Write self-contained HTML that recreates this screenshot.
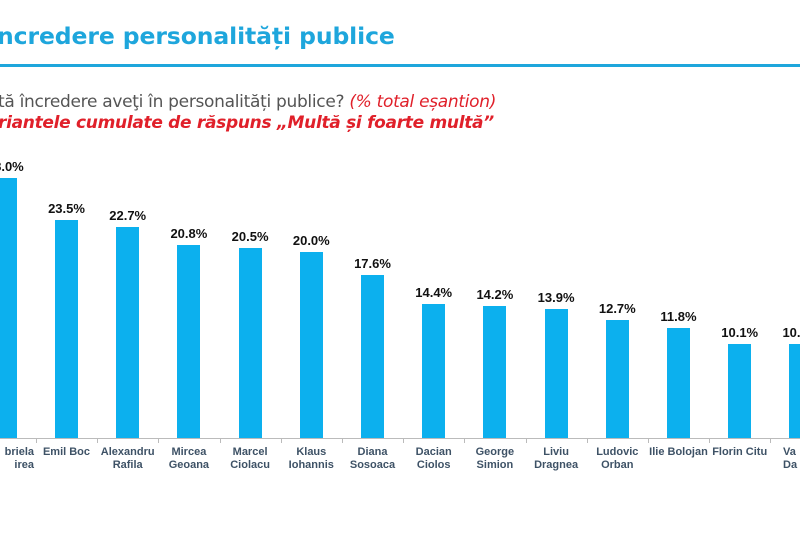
<!DOCTYPE html>
<html><head><meta charset="utf-8"><style>
body{margin:0;width:800px;height:534px;background:#fff;overflow:hidden;position:relative;font-family:"Liberation Sans",sans-serif}
.t{position:absolute;left:-3px;top:22px;font-family:"DejaVu Sans",sans-serif;font-weight:bold;font-size:23.5px;color:#1ea6dc;letter-spacing:-0.1px}
.ln{position:absolute;left:0;top:64px;width:800px;height:3px;background:#1ea6dc}
.s1{position:absolute;left:-2px;top:92px;font-family:"DejaVu Sans",sans-serif;font-size:17px;color:#555;letter-spacing:-0.3px}
.s1 i{color:#e0202a}
.s2{position:absolute;left:-2px;top:113px;font-family:"DejaVu Sans",sans-serif;font-size:17px;color:#e0202a;font-weight:bold;font-style:italic;letter-spacing:-0.3px}
.bar{position:absolute;width:23px;background:#0cb0ee}
.v{position:absolute;width:70px;text-align:center;font-weight:bold;font-size:13px;color:#111}
.lab{position:absolute;width:62px;text-align:center;font-weight:bold;font-size:11px;line-height:13px;color:#3e5266;top:446px;white-space:nowrap}
.ax{position:absolute;left:0;top:438px;width:800px;height:1px;background:#bbb}
.tk{position:absolute;top:438px;width:1px;height:5px;background:#bbb}
</style></head><body>
<div class="t">ncredere personalități publice</div>
<div class="ln"></div>
<div class="s1">tă încredere aveţi în personalități publice? <i>(% total eșantion)</i></div>
<div class="s2">riantele cumulate de răspuns „Multă și foarte multă”</div>
<div class="ax"></div>
<div id="c"></div>
<script>
var d=[[28.0,"briela<br>irea"],[23.5,"Emil Boc"],[22.7,"Alexandru<br>Rafila"],[20.8,"Mircea<br>Geoana"],[20.5,"Marcel<br>Ciolacu"],[20.0,"Klaus<br>Iohannis"],[17.6,"Diana<br>Sosoaca"],[14.4,"Dacian<br>Ciolos"],[14.2,"George<br>Simion"],[13.9,"Liviu<br>Dragnea"],[12.7,"Ludovic<br>Orban"],[11.8,"Ilie Bolojan"],[10.1,"Florin Citu"],[10.1,"Va<br>Da"]];
var h="";
d.forEach(function(e,i){var c=5.3+61.2*i,top=438-e[0]*9.28;
h+='<div class="bar" style="left:'+(c-11.5)+'px;top:'+top+'px;height:'+(438-top)+'px"></div>';
h+='<div class="v" style="left:'+(c-35)+'px;top:'+(top-19)+'px">'+e[0].toFixed(1)+'%</div>';
h+='<div class="lab" style="left:'+(c-31)+'px'+(i==0?';text-align:right;left:-28px':'')+(i==13?';text-align:left;left:783px':'')+'">'+e[1]+'</div>';
if(i>0)h+='<div class="tk" style="left:'+(c-30.6)+'px"></div>';});
document.getElementById("c").innerHTML=h;
</script>
</body></html>
